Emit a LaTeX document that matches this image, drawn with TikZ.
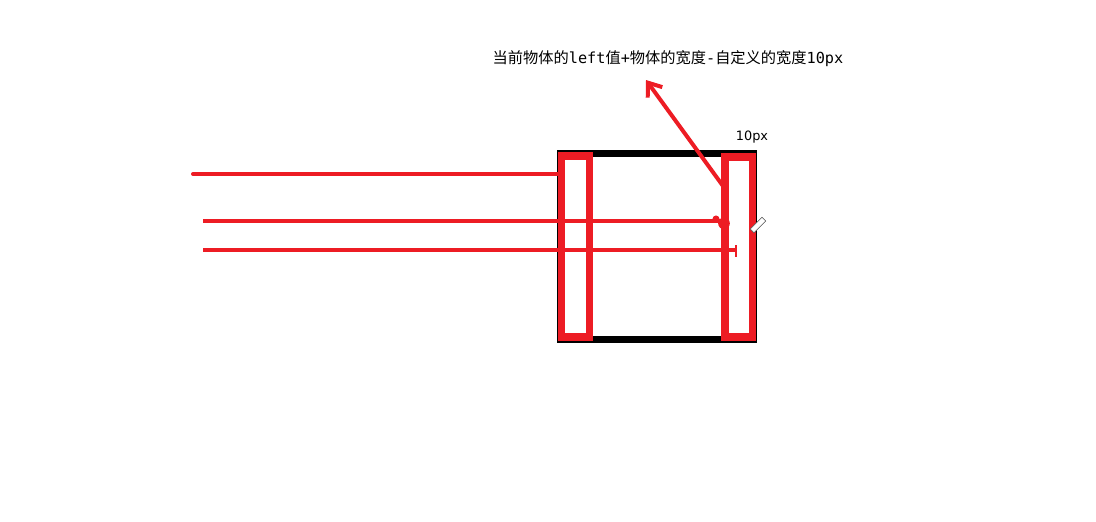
\documentclass[tikz,border=0pt]{standalone}
\usepackage{fontspec}
\setmainfont{DejaVu Sans}
\newfontfamily\cjkfont{Noto Sans CJK SC}
\newfontfamily\latinmono{DejaVu Sans Mono}
\usetikzlibrary{arrows.meta}

\definecolor{paintred}{HTML}{ED1C24}

\tikzset{
  redline/.style={draw=paintred,line width=3.4pt},
  redbar/.style={draw=paintred,line width=6.8pt,inner sep=0pt,minimum width=0.84cm,minimum height=5.43cm},
}

\begin{document}
\begin{tikzpicture}[x=0.03cm,y=-0.03cm]
    \useasboundingbox[fill=white] (0,0) rectangle (1096,521);

    % frame and the two bars
    \node[draw=black,line width=6pt,inner sep=0pt,minimum width=5.79cm,minimum height=5.58cm] (frame) at (657,246.5) {};
    \node[redbar] (leftbar) at (575.5,246.5) {};
    \node[redbar,minimum width=0.825cm,minimum height=5.4cm] (rightbar) at (738.75,247) {};

    % free ends of the lines
    \coordinate (s1) at (193,174);
    \coordinate (s2) at (203,221);
    \coordinate (s3) at (203,250);
    \coordinate (dot) at (724,221);
    \coordinate (tick) at (735,250);
    \coordinate (foot) at (723,186);
    \coordinate (tip) at (646,80);

    \draw[redline,line cap=round] (s1) -- (s1 -| leftbar.west);
    \draw[redline] (s2) -- (dot);
    \draw[redline] (s3) -- (tick);
    \fill[paintred] ([yshift=-2pt]dot) circle[radius=5pt];
    \fill[paintred] (716,219) circle[radius=3pt];
    \draw[paintred,line width=2.5pt] (736,245) -- (736,257);
    \draw[redline,-{Straight Barb[length=0.36cm,width=0.54cm]}] (foot) -- (tip);

    % pencil cursor
    \node[draw=black!70,fill=white,inner sep=0pt,minimum width=0.16cm,minimum height=0.5cm,rotate=-45] (pencil) at (758,225) {};

    % labels
    \node[font=\fontsize{11pt}{13pt}\selectfont] (sizelabel) at (752,137) {10px};
    \node[font=\fontsize{13pt}{15pt}\selectfont] (title) at (668,59)
        {\cjkfont 当前物体的{\latinmono left}值{\latinmono +}物体的宽度{\latinmono -}自定义的宽度{\latinmono 10px}};
\end{tikzpicture}
\end{document}
